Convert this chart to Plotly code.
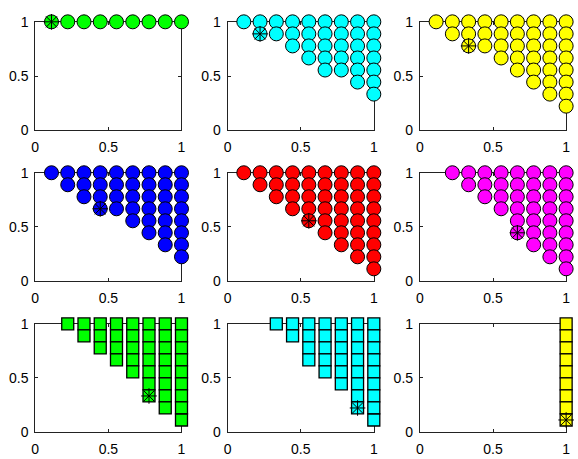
import plotly.graph_objects as go

# Grid positions (ninths) used on both axes
GRID = [1/9, 2/9, 3/9, 4/9, 5/9, 6/9, 7/9, 8/9, 9/9]

# For each panel: lowest filled level (1..9, in ninths) of each of the 9 columns; 0 = empty column
BOTTOMS_1 = [9, 9, 9, 9, 9, 9, 9, 9, 9]
BOTTOMS_2 = [9, 8, 8, 7, 6, 5, 5, 4, 3]
BOTTOMS_3 = [9, 8, 7, 7, 6, 5, 4, 3, 2]
BOTTOMS_4 = [9, 8, 7, 6, 6, 5, 4, 3, 2]
BOTTOMS_5 = [9, 8, 7, 6, 5, 4, 3, 2, 1]
BOTTOMS_6 = [0, 9, 8, 7, 6, 4, 3, 2, 1]
BOTTOMS_7 = [0, 9, 8, 7, 6, 5, 3, 2, 1]
BOTTOMS_8 = [0, 0, 9, 8, 6, 5, 4, 2, 1]
BOTTOMS_9 = [0, 0, 0, 0, 0, 0, 0, 0, 1]

# Asterisk positions (column, level)
STARS = [(1, 9), (2, 8), (3, 7), (4, 6), (5, 5), (6, 4), (7, 3), (8, 2), (9, 1)]

COLORS = ["#00FF00", "#00FFFF", "#FFFF00", "#0000FF", "#FF0000", "#FF00FF",
          "#00FF00", "#00FFFF", "#FFFF00"]
SYMBOLS = ["circle"] * 6 + ["square"] * 3
ALL_BOTTOMS = [BOTTOMS_1, BOTTOMS_2, BOTTOMS_3, BOTTOMS_4, BOTTOMS_5,
               BOTTOMS_6, BOTTOMS_7, BOTTOMS_8, BOTTOMS_9]

# layout geometry (pixel-derived domains)
XDOMS = [[0.0548, 0.3114], [0.3922, 0.6488], [0.7296, 0.9862]]
YDOMS = [[0.7240, 0.9688], [0.3841, 0.6281], [0.0429, 0.2869]]

fig = go.Figure()
FONT = dict(family="Liberation Sans, Arial, sans-serif", size=14, color="black")

for i in range(9):
    r, c = divmod(i, 3)
    ax = "" if i == 0 else str(i + 1)
    xs, ys = [], []
    for col, b in enumerate(ALL_BOTTOMS[i]):
        if b == 0:
            continue
        for lev in range(9, b - 1, -1):
            xs.append(GRID[col])
            ys.append(GRID[lev - 1])
    sym = SYMBOLS[i]
    fig.add_trace(go.Scatter(
        x=xs, y=ys, mode="markers", xaxis="x" + ax, yaxis="y" + ax,
        cliponaxis=False, showlegend=False, hoverinfo="skip",
        marker=dict(symbol=sym, size=14 if sym == "circle" else 12,
                    color=COLORS[i],
                    line=dict(color="black", width=1 if sym == "circle" else 1.3)),
    ))
    sc, sl = STARS[i]
    fig.add_trace(go.Scatter(
        x=[GRID[sc - 1]], y=[GRID[sl - 1]], mode="markers",
        xaxis="x" + ax, yaxis="y" + ax, cliponaxis=False, showlegend=False,
        hoverinfo="skip",
        marker=dict(symbol="asterisk", size=13, color="black",
                    line=dict(color="black", width=1)),
    ))
    common = dict(range=[0, 1], tickvals=[0, 0.5, 1], ticktext=["0", "0.5", "1"],
                  ticks="inside", ticklen=3, tickcolor="#222", showline=True,
                  linecolor="#222", linewidth=1, mirror="ticks", showgrid=False,
                  zeroline=False, tickfont=FONT, fixedrange=True,
                  layer="below traces")
    fig.layout["xaxis" + ax] = dict(domain=XDOMS[c], anchor="y" + ax,
                                    ticklabelstandoff=4, **common)
    fig.layout["yaxis" + ax] = dict(domain=YDOMS[r], anchor="x" + ax,
                                    ticklabelstandoff=3, **common)

fig.update_layout(width=578, height=459, margin=dict(l=0, r=0, t=0, b=0),
                  paper_bgcolor="white", plot_bgcolor="white")
fig.write_html("out.html")
